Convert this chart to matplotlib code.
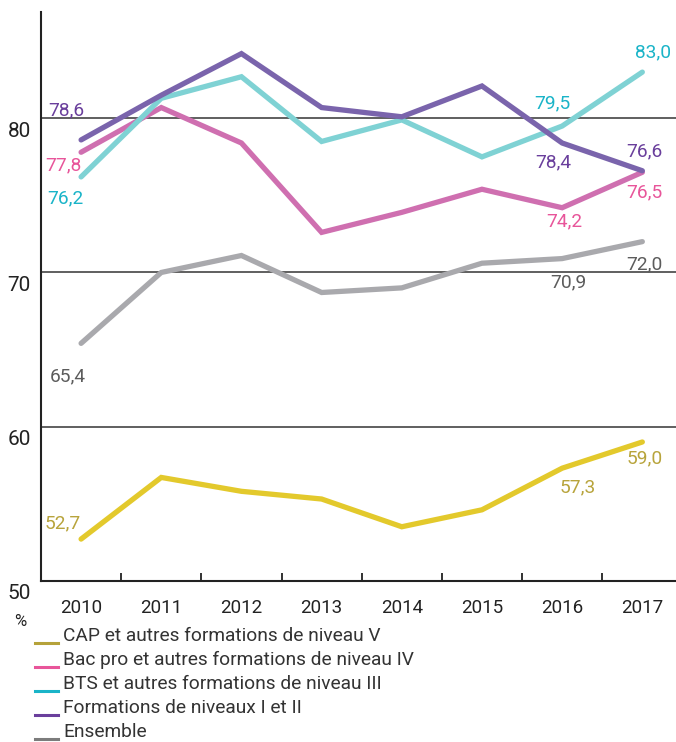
import matplotlib
matplotlib.use("Agg")
import matplotlib.pyplot as plt
from matplotlib.lines import Line2D

plt.rcParams['font.family'] = ['Roboto', 'DejaVu Sans']

years = ['2010', '2011', '2012', '2013', '2014', '2015', '2016', '2017']
cap = [52.7, 56.7, 55.8, 55.3, 53.5, 54.6, 57.3, 59.0]
bacpro = [77.8, 80.7, 78.4, 72.6, 73.9, 75.4, 74.2, 76.5]
bts = [76.2, 81.3, 82.7, 78.5, 79.9, 77.5, 79.5, 83.0]
sup = [78.6, 81.5, 84.2, 80.7, 80.1, 82.1, 78.4, 76.6]
ensemble = [65.4, 70.0, 71.1, 68.7, 69.0, 70.6, 70.9, 72.0]

series_names = ['CAP et autres formations de niveau V',
                'Bac pro et autres formations de niveau IV',
                'BTS et autres formations de niveau III',
                'Formations de niveaux I et II',
                'Ensemble']
series_values = [cap, bacpro, bts, sup, ensemble]
line_colors = ['#e3c92c', '#cf6fb0', '#7fd2d4', '#7a64ac', '#a9a9ad']
text_colors = ['#b8a43c', '#e8559a', '#1ab4c8', '#6a3f9c', '#5c5c5c']
legend_colors = ['#b5a23a', '#e8559a', '#1ab4c8', '#6a3f9c', '#7c7c7c']

# labelled points: (series index, year index, offset px)
labels = [
    (3, 0, (-15, 30)), (1, 0, (-18, -13)), (2, 0, (-16, -21)),
    (4, 0, (-13, -33)), (0, 0, (-18, 16)),
    (2, 6, (-10, 23)), (3, 6, (-9, -19)), (1, 6, (2, -14)),
    (4, 6, (6, -24)), (0, 6, (16, -19)),
    (2, 7, (11, 20)), (3, 7, (2, 19)), (1, 7, (2, -20)),
    (4, 7, (2, -23)), (0, 7, (2, -16)),
]

W, H = 676, 742
fig = plt.figure(figsize=(W / 100, H / 100), dpi=100)
ax = fig.add_axes([41 / W, 1 - 580.7 / H, 1 - 41 / W, (580.7 - 12) / H])

x = list(range(len(years)))
for yv in (60, 70, 80):
    ax.axhline(yv, color='#444444', lw=1.2, zorder=1)

draw_order = [4, 0, 1, 2, 3]
for i in draw_order:
    ax.plot(x, series_values[i], color=line_colors[i], lw=3.8,
            solid_capstyle='round', solid_joinstyle='miter', zorder=3)

for si, yi, (dx, dy) in labels:
    v = series_values[si][yi]
    ax.annotate(f"{v:.1f}".replace('.', ','), xy=(yi, v), xytext=(dx, dy),
                textcoords='offset pixels', ha='center', va='center',
                fontsize=13.8, color=text_colors[si], zorder=4)

ax.set_xlim(-0.5, 7.42)
ax.set_ylim(50, 86.9)
ax.set_xticks(x)
ax.set_xticklabels(years)
ax.set_xticks([i + 0.5 for i in range(7)], minor=True)
ax.tick_params(axis='x', which='major', length=0, pad=13, labelsize=13.5,
               labelcolor='#222222')
ax.tick_params(axis='x', which='minor', length=6, width=1.3, direction='in',
               color='#222222')
ax.set_yticks([50, 60, 70, 80])
ax.set_yticklabels([])
for yv in (50, 60, 70, 80):
    ax.annotate(str(yv), xy=(0, yv), xycoords=('axes fraction', 'data'),
                xytext=(-10, -13), textcoords='offset pixels', ha='right',
                va='center', fontsize=15, color='#222222')
ax.tick_params(axis='y', length=0)
ax.annotate('%', xy=(0, 50), xycoords=('axes fraction', 'data'),
            xytext=(-21, -41), textcoords='offset pixels', ha='center',
            va='center', fontsize=12, color='#222222')

for s in ('top', 'right'):
    ax.spines[s].set_visible(False)
ax.spines['left'].set_linewidth(1.5)
ax.spines['bottom'].set_linewidth(1.5)
ax.spines['left'].set_color('#222222')
ax.spines['bottom'].set_color('#222222')

# legend
y0 = 636
for k, name in enumerate(series_names):
    yc = y0 + k * 24
    yl = yc + 7
    fig.add_artist(Line2D([35 / W, 58 / W], [1 - yl / H, 1 - yl / H],
                          color=legend_colors[k], lw=2.2,
                          transform=fig.transFigure))
    fig.text(63 / W, 1 - yc / H, name, ha='left', va='center', fontsize=13.8,
             color='#333333')

fig.savefig('out.png', dpi=100)
